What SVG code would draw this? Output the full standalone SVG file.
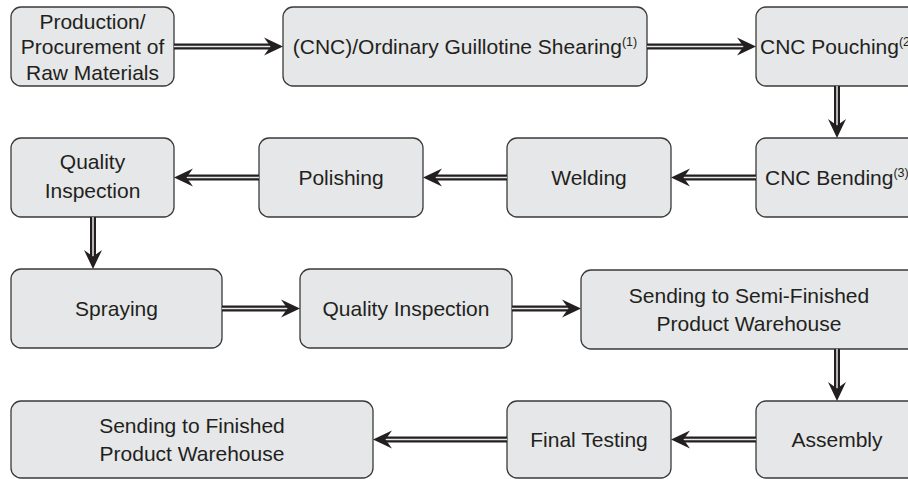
<svg xmlns="http://www.w3.org/2000/svg" width="908" height="479" viewBox="0 0 908 479">
<style>
.box{fill:#e6e7e8;stroke:#3a3a3a;stroke-width:1.3}
text{font-family:"Liberation Sans",Arial,sans-serif;font-size:21px;fill:#231f20}
.c{text-anchor:middle}
.sup{font-size:12.5px}
.lo{fill:none;stroke:#231f20;stroke-width:6}
.li{fill:none;stroke:#e6e7e8;stroke-width:1.5}
.hd{fill:#231f20}
</style>
<defs>
<path id="ah" d="M0,0 L-19,-9 L-12.5,0 L-19,9 Z"/>
</defs>
<rect width="908" height="479" fill="#ffffff"/>
<g id="n1"><rect class="box" x="11" y="7" width="163" height="79" rx="10"/>
<text class="c" x="92.5" y="29">Production/</text><text class="c" x="92.5" y="54">Procurement of</text><text class="c" x="92.5" y="80">Raw Materials</text></g>
<g id="n2"><rect class="box" x="283" y="7" width="364" height="79" rx="10"/>
<text class="c" x="465" y="54">(CNC)/Ordinary Guillotine Shearing<tspan class="sup" dy="-8">(1)</tspan></text></g>
<g id="n3"><rect class="box" x="756" y="7" width="164" height="79" rx="10"/>
<text x="760" y="54">CNC Pouching<tspan class="sup" dy="-8">(2)</tspan></text></g>
<g id="n4"><rect class="box" x="756" y="138" width="164" height="79" rx="10"/>
<text x="765" y="185">CNC Bending<tspan class="sup" dy="-8">(3)</tspan></text></g>
<g id="n5"><rect class="box" x="507" y="138" width="164" height="79" rx="10"/>
<text class="c" x="589" y="185">Welding</text></g>
<g id="n6"><rect class="box" x="259" y="138" width="164" height="79" rx="10"/>
<text class="c" x="341" y="185">Polishing</text></g>
<g id="n7"><rect class="box" x="11" y="138" width="163" height="79" rx="10"/>
<text class="c" x="92.5" y="169">Quality</text><text class="c" x="92.5" y="198">Inspection</text></g>
<g id="n8"><rect class="box" x="11" y="269" width="211" height="79" rx="10"/>
<text class="c" x="116.5" y="316">Spraying</text></g>
<g id="n9"><rect class="box" x="300" y="269" width="212" height="79" rx="10"/>
<text class="c" x="406" y="316">Quality Inspection</text></g>
<g id="n10"><rect class="box" x="581" y="270" width="339" height="79" rx="10"/>
<text class="c" x="749" y="303">Sending to Semi-Finished</text><text class="c" x="749" y="331">Product Warehouse</text></g>
<g id="n11"><rect class="box" x="756" y="401" width="164" height="77" rx="10"/>
<text class="c" x="837" y="447">Assembly</text></g>
<g id="n12"><rect class="box" x="507" y="401" width="164" height="77" rx="10"/>
<text class="c" x="589" y="447">Final Testing</text></g>
<g id="n13"><rect class="box" x="11" y="401" width="362" height="77" rx="10"/>
<text class="c" x="192" y="433">Sending to Finished</text><text class="c" x="192" y="461">Product Warehouse</text></g>
<g id="connectors">
<path class="lo" d="M174,46.5H272 M647,46.5H745 M837,86V127 M756,177.5H682 M507,177.5H434 M259,177.5H185 M93,217V258 M222,308.5H289 M512,308.5H570 M837,349V390 M756,439.5H682 M507,439.5H384"/>
<path class="li" d="M174,46.5H271 M647,46.5H744 M837,86V126 M756,177.5H683 M507,177.5H435 M259,177.5H186 M93,217V257 M222,308.5H288 M512,308.5H569 M837,349V389 M756,439.5H683 M507,439.5H385"/>
<use href="#ah" class="hd" transform="translate(283,46.5)"/>
<use href="#ah" class="hd" transform="translate(756,46.5)"/>
<use href="#ah" class="hd" transform="translate(837,138) rotate(90)"/>
<use href="#ah" class="hd" transform="translate(671,177.5) rotate(180)"/>
<use href="#ah" class="hd" transform="translate(423,177.5) rotate(180)"/>
<use href="#ah" class="hd" transform="translate(174,177.5) rotate(180)"/>
<use href="#ah" class="hd" transform="translate(93,269) rotate(90)"/>
<use href="#ah" class="hd" transform="translate(300,308.5)"/>
<use href="#ah" class="hd" transform="translate(581,308.5)"/>
<use href="#ah" class="hd" transform="translate(837,401) rotate(90)"/>
<use href="#ah" class="hd" transform="translate(671,439.5) rotate(180)"/>
<use href="#ah" class="hd" transform="translate(373,439.5) rotate(180)"/>
</g>
</svg>
